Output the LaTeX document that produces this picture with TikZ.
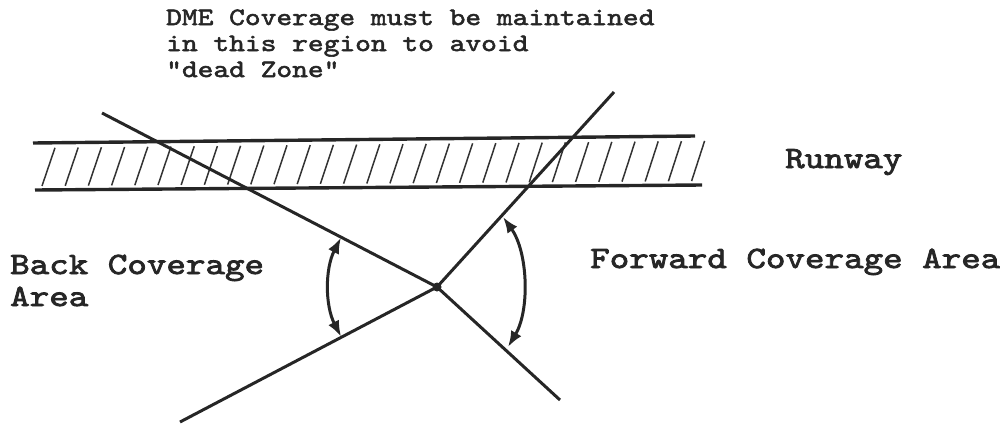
\documentclass[tikz,border=0pt]{standalone}
\usepackage{fontspec}
\newfontfamily\courL{lmmono10-regular.otf}[FakeStretch=1.2,FakeBold=2.6]
\newfontfamily\courN{lmmono10-regular.otf}[FakeStretch=1.2,FakeBold=2.2]
\usetikzlibrary{arrows.meta,calc}
\begin{document}
\begin{tikzpicture}[x=1pt,y=1pt,
  ink/.style={draw=black!85, line width=3pt},
  rwline/.style={draw=black!85, line width=3.4pt},
  hatch/.style={draw=black!80, line width=1.5pt},
  lbl/.style={font=\courL\fontsize{31}{32}\selectfont, anchor=base west, inner sep=0pt, align=left, text=black!85},
  note/.style={font=\courN\fontsize{25}{26}\selectfont, anchor=base west, inner sep=0pt, align=left, text=black!85},
  arr/.style={draw=black!85, line width=3pt, {Latex[length=16pt,width=12pt]}-{Latex[length=16pt,width=12pt]}}]
\useasboundingbox (0,0) rectangle (1000,-423);

% runway
\coordinate (rtl) at (33,-143);
\coordinate (rtr) at (695,-136);
\coordinate (rbl) at (35,-190);
\coordinate (rbr) at (702,-185);
\draw[rwline] (rtl) -- (rtr);
\draw[rwline] (rbl) -- (rbr);
\foreach \i in {0,...,28} {
  \pgfmathsetmacro{\xb}{42+23.2*\i}
  \pgfmathsetmacro{\xt}{\xb+13}
  \pgfmathsetmacro{\yb}{190-5*(\xb-35)/667-4}
  \pgfmathsetmacro{\yt}{143-7*(\xt-33)/662+5}
  \draw[hatch] (\xb,-\yb) -- (\xt,-\yt);
}

% vertex and rays
\node[circle, fill=black!85, inner sep=0pt, minimum size=9pt] (v) at (437,-287) {};
\coordinate (bu) at (102,-113);
\coordinate (bd) at (180,-422);
\coordinate (fu) at (614,-92);
\coordinate (fd) at (560,-400);
\draw[ink] (v.center) -- (bu);
\draw[ink] (v.center) -- (bd);
\draw[ink] (v.center) -- (fu);
\draw[ink] (v.center) -- (fd);

% coverage arcs
\coordinate (ba) at ($(v.center)+(152.8:108)$);
\draw[arr] (ba) arc[start angle=152.8, end angle=207.4, radius=108];
\coordinate (fa1) at (503,-217);
\coordinate (fa2) at (508,-347);
\draw[arr] (fa1) .. controls (528,-252) and (530,-310) .. (fa2);

% texts
\node[note] (dme) at (166,-77) {DME Coverage must be maintained\\in this region to avoid\\"dead Zone"};
\node[lbl] (rw) at (785,-168) {Runway};
\node[lbl] (back) at (10,-306) {Back Coverage\\Area};
\node[lbl] (fwd) at (590,-268) {Forward Coverage Area};
\end{tikzpicture}
\end{document}
